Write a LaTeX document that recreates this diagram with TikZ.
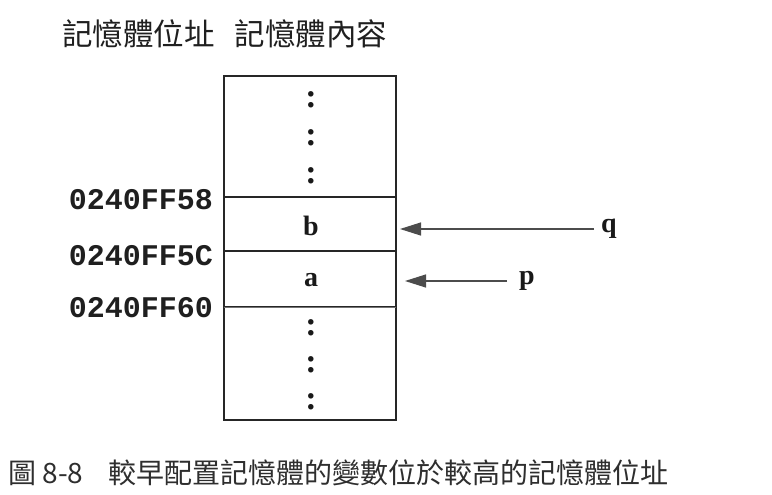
\documentclass[tikz,border=0pt]{standalone}
\usepackage{fontspec}
\setmainfont{Liberation Serif}
\setmonofont{Liberation Mono}
\newfontfamily\cjk{Noto Sans CJK TC}
\usetikzlibrary{arrows.meta}
\begin{document}
\begin{tikzpicture}[x=1pt,y=-1pt,
  cell/.style={draw=black!85, line width=1.2pt, minimum width=172pt, inner sep=0pt, outer sep=0pt, anchor=north west},
  addr/.style={font=\fontsize{30}{30}\selectfont\ttfamily\bfseries, text=black!88, anchor=east, inner sep=0pt},
  var/.style={font=\fontsize{28}{28}\selectfont\bfseries, text=black!90, inner sep=0pt},
  colon/.style={font=\fontsize{34}{34}\selectfont\bfseries, text=black!90, inner sep=0pt},
  ptr/.style={draw=black!70, line width=1.2pt, -{Triangle[length=21pt,width=13pt]}},
  head/.style={font=\fontsize{30.5}{30.5}\selectfont\cjk, text=black!88, inner sep=0pt},
  captionstyle/.style={font=\fontsize{28}{28}\selectfont\cjk, text=black!82, inner sep=0pt, anchor=west}]
\useasboundingbox[fill=white] (0,0) rectangle (772,495);

% headers
\node[head] (hAddr) at (138.5,33.5) {記憶體位址};
\node[head] (hCont) at (311,33.5) {記憶體內容};

% memory cells
\node[cell, minimum height=121pt] (top) at (224,76) {};
\node[cell, minimum height=54pt, line width=1.6pt] (bcell) at (224,197) {};
\node[cell, minimum height=56pt] (acell) at (224,251) {};
\node[cell, minimum height=113pt] (bot) at (224,307) {};
\draw[line width=1.8pt, draw=black!85] (bcell.north west) -- (bcell.north east);
\draw[line width=1.8pt, draw=black!85] (acell.north west) -- (acell.north east);
\draw[line width=1.8pt, draw=black!85] (bot.south west) -- (bot.south east);
\draw[line width=1pt, draw=black!55] (bot.north west) -- (bot.north east);

% contents
\node[var] (b) at (311,226) {b};
\node[var] (a) at (311,280) {a};
\node[colon] (c1) at (311,100) {:};
\node[colon] (c2) at (311,138) {:};
\node[colon] (c3) at (311,176) {:};
\node[colon] (c4) at (311,328) {:};
\node[colon] (c5) at (311,365) {:};
\node[colon] (c6) at (311,402) {:};

% addresses
\node[addr] (ad1) at (213,200) {0240FF58};
\node[addr] (ad2) at (213,256) {0240FF5C};
\node[addr] (ad3) at (213,308) {0240FF60};

% pointers
\node[var] (q) at (609,229) {q};
\node[var] (p) at (527,281) {p};
\draw[ptr, shorten <=7pt, shorten >=4pt] (q.west) -- (q.west -| bcell.east);
\draw[ptr, shorten <=12pt, shorten >=9pt] (p.west) -- (p.west -| acell.east);

% caption
\node[captionstyle] (fig) at (8,473) {圖 8-8};
\node[captionstyle] (captext) at (108,473) {較早配置記憶體的變數位於較高的記憶體位址};
\end{tikzpicture}
\end{document}
